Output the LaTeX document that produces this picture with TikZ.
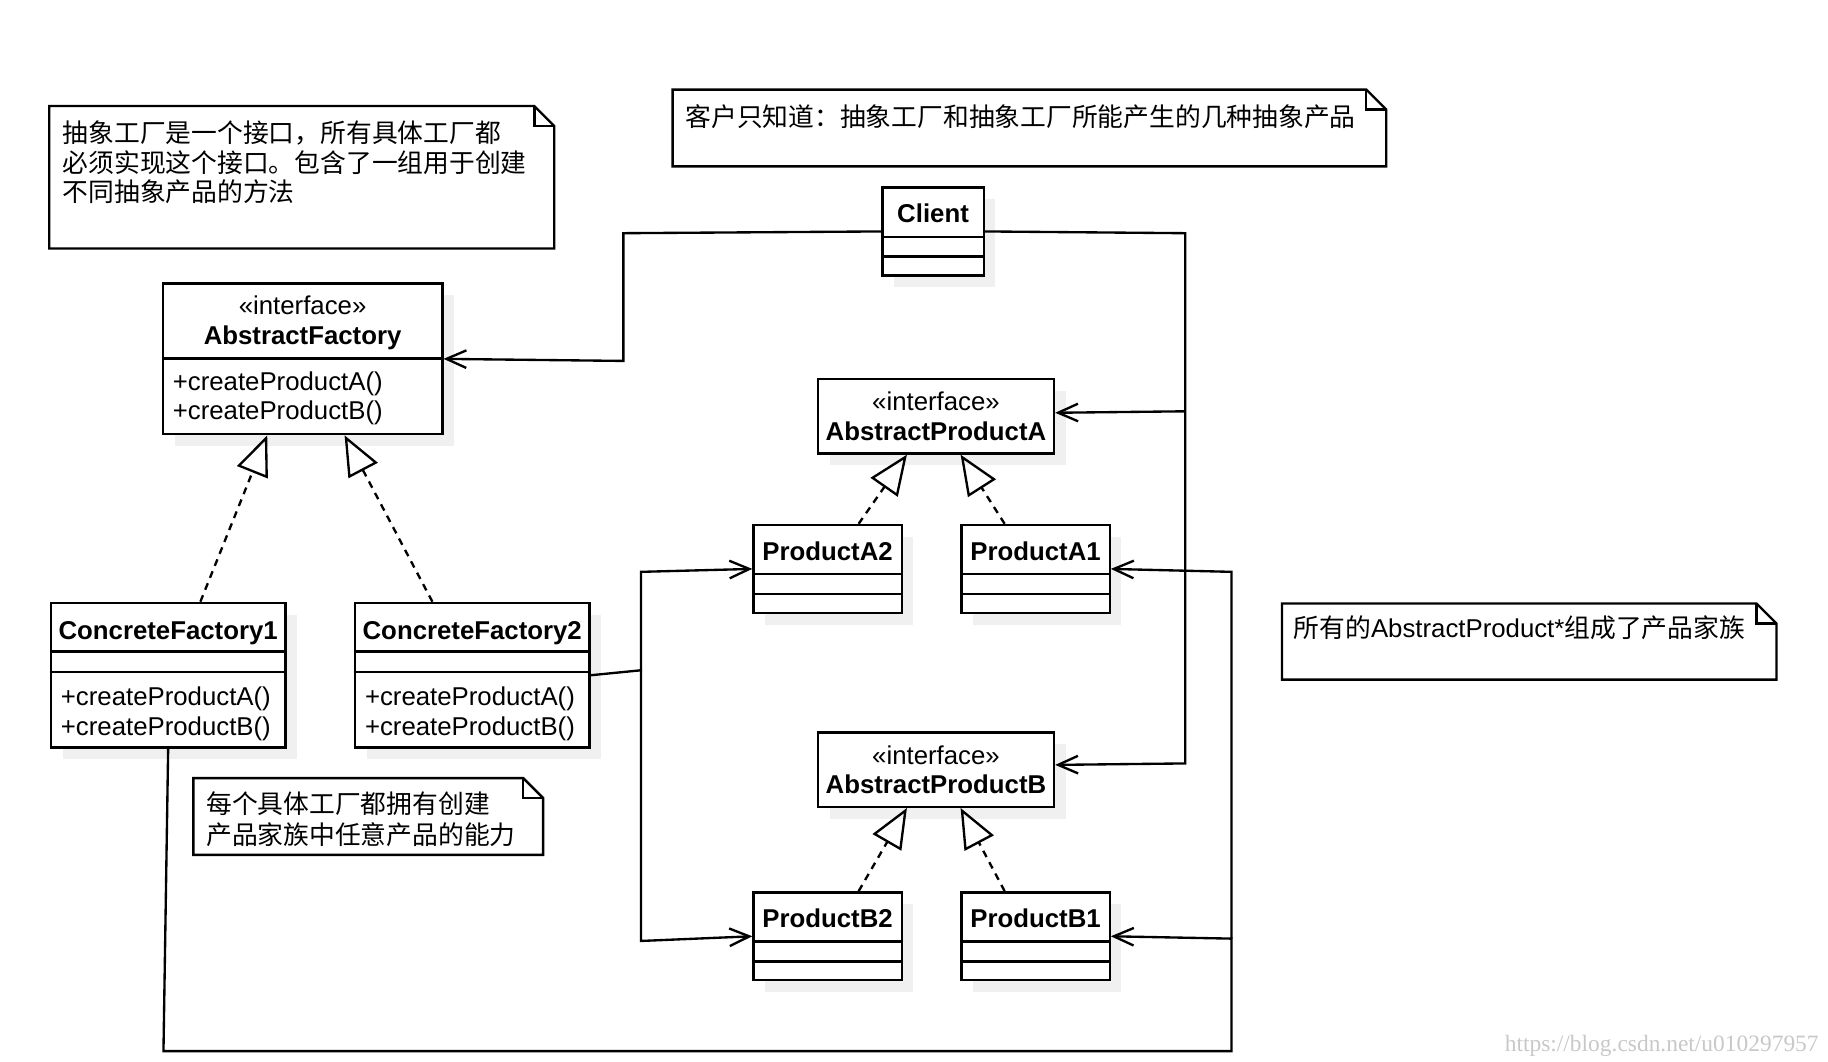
\documentclass[tikz,border=0pt]{standalone}
\usepackage{fontspec}
\setmainfont{Liberation Sans}[Scale=1.1]
\newfontfamily\cjk{Noto Sans CJK SC}[Scale=1.1]
\newfontfamily\urlfont{Liberation Serif}
\usetikzlibrary{arrows.meta, positioning, calc, shadows}
\definecolor{shadowgray}{RGB}{240,240,240}
\definecolor{markgray}{RGB}{200,200,200}

\tikzset{
  classbox/.style={draw, fill=white, inner sep=0pt, anchor=north west,
    drop shadow={shadow xshift=5pt, shadow yshift=-5pt, fill=shadowgray, opacity=1}},
  title/.style={font=\bfseries, anchor=base, inner sep=0pt},
  stereo/.style={anchor=base, inner sep=0pt},
  op/.style={anchor=base west, inner sep=0pt},
  notetext/.style={anchor=base west, inner sep=0pt},
  assoc/.style={-{Straight Barb[length=8.5pt,width=7.5pt]}},
  real/.style={dash pattern=on 3pt off 2.5pt, -{Triangle[open,length=17pt,width=14pt]}}
}

\begin{document}
\begin{tikzpicture}[x=0.5pt, y=-0.5pt, line width=1pt]
\useasboundingbox (0,0) rectangle (1560,906.3);

% Notes
\foreach \xa/\ya/\xb/\yb in {42/90.5/473/212, 574/76.5/1183/142, 1094/515/1516/580, 165/664/463.5/729.5} {
    \draw (\xa,\ya) -- (\xb-17,\ya) -- (\xb,\ya+17) -- (\xb,\yb) -- (\xa,\yb) -- cycle;
    \draw (\xb-17,\ya) -- (\xb-17,\ya+17) -- (\xb,\ya+17);
}
\foreach \txt [count=\i] in {{抽象工厂是一个接口，所有具体工厂都}, {必须实现这个接口。包含了一组用于创建}, {不同抽象产品的方法}}
    \node[notetext] (noteF\i) at (52.5,97+25*\i) {\cjk \txt};
\node[notetext] (noteC) at (584,108) {\cjk 客户只知道：抽象工厂和抽象工厂所能产生的几种抽象产品};
\node[notetext] (noteP) at (1103,544) {{\cjk 所有的}AbstractProduct*{\cjk 组成了产品家族}};
\foreach \txt [count=\i] in {{每个具体工厂都拥有创建}, {产品家族中任意产品的能力}}
    \node[notetext] (noteE\i) at (175,667+27*\i) {\cjk \txt};

% Client and concrete products
\foreach \id/\x/\y/\w/\txt in {client/752/159/43.25pt/Client, pa2/642/447/63.25pt/ProductA2, pa1/819.5/447/63.25pt/ProductA1, pb2/642/760.5/63.25pt/ProductB2, pb1/819.5/760.5/63.25pt/ProductB1} {
    \node[classbox, minimum width=\w, minimum height=37.5pt] (\id) at (\x,\y) {};
    \node[title] (\id-t) at ($(\id.north)+(0,31)$) {\txt};
    \draw ($(\id.north west)+(0,43)$) -- ($(\id.north east)+(0,43)$);
    \draw ($(\id.north west)+(0,60)$) -- ($(\id.north east)+(0,60)$);
}

% Abstract factory
\node[classbox, minimum width=119.25pt, minimum height=64.25pt] (afac) at (138,241) {};
\node[stereo] (afac-s) at ($(afac.north)+(0,27.5)$) {«interface»};
\node[title] (afac-t) at ($(afac.north)+(0,53)$) {AbstractFactory};
\draw ($(afac.north west)+(0,65)$) -- ($(afac.north east)+(0,65)$);
\node[op] (afac-a) at ($(afac.north west)+(8.5,92)$) {+createProductA()};
\node[op] (afac-b) at ($(afac.north west)+(8.5,117)$) {+createProductB()};

% Abstract products
\foreach \id/\y/\txt in {apa/322.5/AbstractProductA, apb/624/AbstractProductB} {
    \node[classbox, minimum width=100.75pt, minimum height=31.75pt] (\id) at (697,\y) {};
    \node[stereo] (\id-s) at ($(\id.north)+(0,28)$) {«interface»};
    \node[title] (\id-t) at ($(\id.north)+(0,53.5)$) {\txt};
}

% Concrete factories
\foreach \id/\x/\txt in {cf1/42.5/ConcreteFactory1, cf2/302/ConcreteFactory2} {
    \node[classbox, minimum width=100pt, minimum height=61.75pt] (\id) at (\x,513.5) {};
    \node[title] (\id-t) at ($(\id.north)+(0,32.5)$) {\txt};
    \draw ($(\id.north west)+(0,42.5)$) -- ($(\id.north east)+(0,42.5)$);
    \draw ($(\id.north west)+(0,60)$) -- ($(\id.north east)+(0,60)$);
    \node[op] (\id-a) at ($(\id.north west)+(8.5,88.5)$) {+createProductA()};
    \node[op] (\id-b) at ($(\id.north west)+(8.5,114.5)$) {+createProductB()};
}

% Associations
\draw[assoc] (client.west) -- (532,199) -- (532,308) -- (afac.east);
\draw[assoc] (client.east) -- (1011.5,199) -- (1011.5,651.5) -- ([yshift=2pt]apb.east);
\draw[assoc] (1011.5,351) -- ([yshift=1.5pt]apa.east);
\draw[assoc] (cf2.east) -- (547,572) -- (547,488) -- (pa2.west);
\draw[assoc] (547,572) -- (547,803) -- (pb2.west);
\draw[assoc] (cf1.south) -- (139.5,897) -- (1051,897) -- (1051,801) -- (pb1.east);
\draw[assoc] (1051,801) -- (1051,488) -- (pa1.east);

% Realizations
\draw[real] ([xshift=13.75pt]cf1.north) -- ([xshift=-15.1pt]afac.south);
\draw[real] ([xshift=-17pt]cf2.north) -- ([xshift=17.9pt]afac.south);
\foreach \s in {a,b} {
    \draw[real] ([xshift=13.25pt]p\s2.north) -- ([xshift=-12.4pt]ap\s.south);
    \draw[real] ([xshift=-13.2pt]p\s1.north) -- ([xshift=10.5pt]ap\s.south);
}

\node[anchor=base east, inner sep=0pt, text=markgray, font=\urlfont] (mark) at (1553,897) {https://blog.csdn.net/u010297957};
\end{tikzpicture}
\end{document}
